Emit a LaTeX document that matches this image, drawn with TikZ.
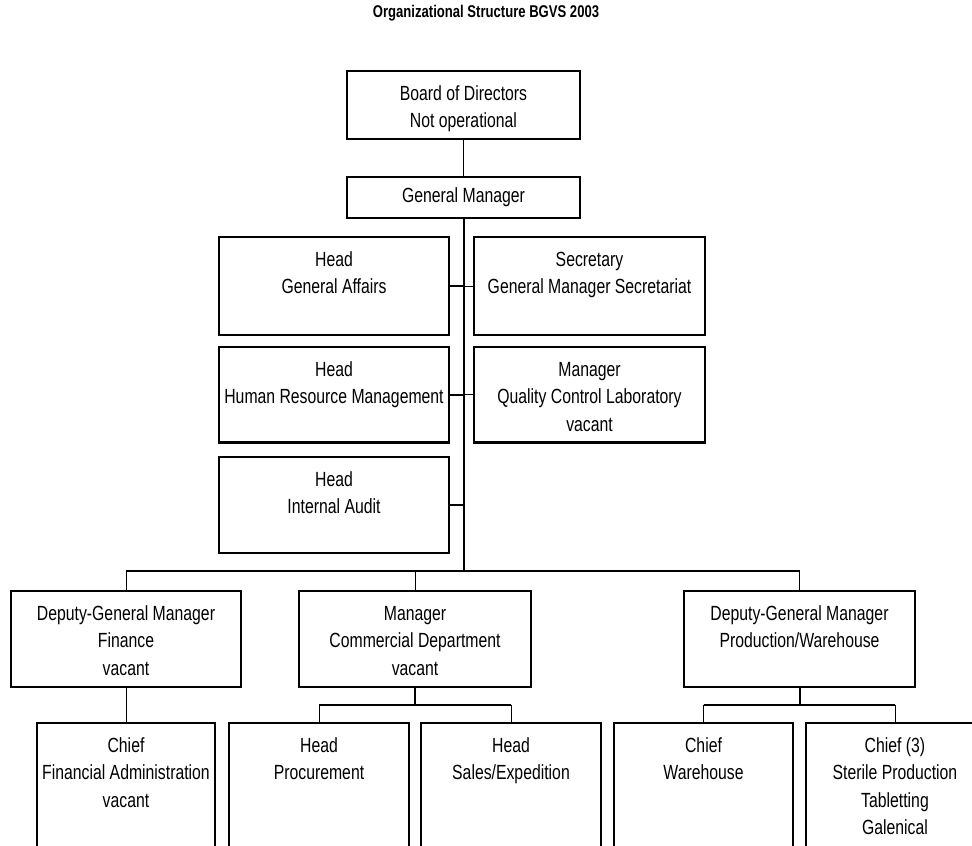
\documentclass[tikz,border=0pt]{standalone}
\usepackage{fontspec}
\setmainfont{Liberation Sans}[FakeStretch=0.77]
\newcommand\bxt[3]{\parbox[c][#1pt][t]{#2pt}{\centering\rule{0pt}{29pt}#3}}
\begin{document}
\begin{tikzpicture}[x=1pt,y=-1pt,
  font=\fontsize{20.5}{27.5}\selectfont,
  bx/.style={draw, line width=2.2pt, inner sep=0pt, outer sep=0pt},
  thk/.style={line width=2pt},
  thn/.style={line width=0.9pt}]
\useasboundingbox (0,0) rectangle (972,846);
\clip (0,0) rectangle (972,846);
\fill[white] (0,0) rectangle (972,846);
% title
\node[font=\fontsize{17}{20}\selectfont\bfseries] (title) at (486,13) {Organizational Structure BGVS 2003};
% top
\node[bx] (board) at (463.5,105) {\bxt{68}{233}{Board of Directors\\Not operational}};
\node[bx] (gm) at (463.5,197.5) {\parbox[c][41pt][c]{233pt}{\centering General Manager}};
% staff
\node[bx] (hga) at (334,286) {\bxt{98}{230}{Head\\General Affairs}};
\node[bx] (sec) at (589.5,286) {\bxt{98}{231}{Secretary\\General Manager Secretariat}};
\node[bx] (hr) at (334,394.75) {\bxt{95.5}{230}{Head\\Human Resource Management}};
\node[bx] (qc) at (589.5,394.75) {\bxt{95.5}{231}{Manager\\Quality Control Laboratory\\vacant}};
\node[bx] (ia) at (334,505) {\bxt{96}{230}{Head\\Internal Audit}};
% second level
\node[bx] (fin) at (126,639) {\bxt{96}{230}{Deputy-General Manager\\Finance\\vacant}};
\node[bx] (com) at (415,639) {\bxt{96}{232}{Manager\\Commercial Department\\vacant}};
\node[bx] (prod) at (799.5,639) {\bxt{96}{231}{Deputy-General Manager\\Production/Warehouse}};
% third level
\node[bx] (cfa) at (126,801.5) {\bxt{157}{178}{Chief\\Financial Administration\\vacant}};
\node[bx] (proc) at (319,801.5) {\bxt{157}{180}{Head\\Procurement}};
\node[bx] (sales) at (511,801.5) {\bxt{157}{180}{Head\\Sales/Expedition}};
\node[bx] (wh) at (703.5,801.5) {\bxt{157}{179}{Chief\\Warehouse}};
\node[bx] (c3) at (895,801.5) {\bxt{157}{178}{Chief (3)\\Sterile Production\\Tabletting\\Galenical}};
% coordinates
\coordinate (bus) at (463.5,571);
\coordinate (cbus) at (415,704.5);
\coordinate (pbus) at (799.5,704.5);
% connectors
\draw[thn] (board) -- (gm);
\draw[thk] (gm.south) -- (bus);
\draw[thk] (hga.east) -- (hga.east -| gm.south);
\draw[thn] (hga.east -| gm.south) -- (sec.west);
\draw[thk] (hr.east) -- (hr.east -| gm.south);
\draw[thn] (hr.east -| gm.south) -- (qc.west);
\draw[thk] (ia.east) -- (ia.east -| gm.south);
\draw[thk] (fin.north |- bus) -- (prod.north |- bus);
\draw[thn] (fin.north |- bus) -- (fin.north);
\draw[thn] (com.north |- bus) -- (com.north);
\draw[thn] (prod.north |- bus) -- (prod.north);
\draw[thn] (fin) -- (cfa);
\draw[thk] (com.south) -- (cbus);
\draw[thk] (proc.north |- cbus) -- (sales.north |- cbus);
\draw[thn] (proc.north |- cbus) -- (proc.north);
\draw[thn] (sales.north |- cbus) -- (sales.north);
\draw[thk] (prod.south) -- (pbus);
\draw[thk] (wh.north |- pbus) -- (c3.north |- pbus);
\draw[thn] (wh.north |- pbus) -- (wh.north);
\draw[thn] (c3.north |- pbus) -- (c3.north);
\end{tikzpicture}
\end{document}
